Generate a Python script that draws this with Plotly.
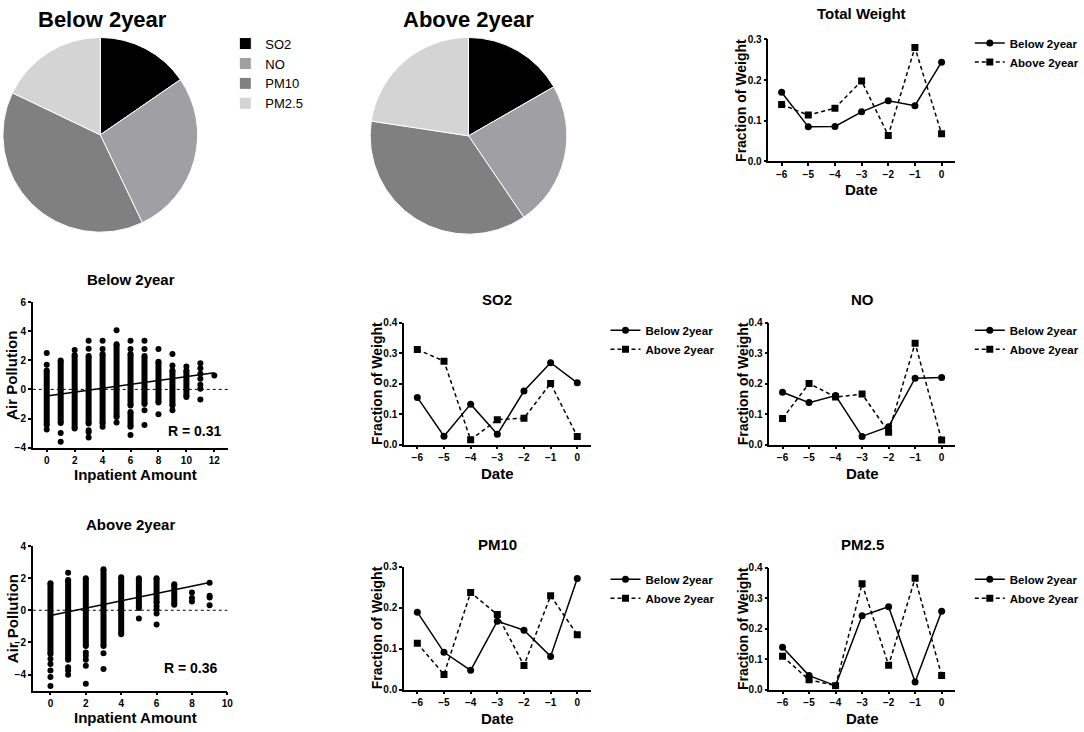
import plotly.graph_objects as go

# ---- data ----
pollutants = ["SO2", "NO", "PM10", "PM2.5"]
pie_below = [15.4, 27.5, 39.2, 17.9]
pie_above = [16.7, 23.8, 36.9, 22.6]
pie_colors = ["#000000", "#a0a0a4", "#808080", "#d4d4d4"]

dates = [-6, -5, -4, -3, -2, -1, 0]
total_below = [0.170, 0.085, 0.086, 0.122, 0.149, 0.137, 0.244]
total_above = [0.140, 0.114, 0.131, 0.198, 0.064, 0.280, 0.068]
so2_below = [0.155, 0.028, 0.133, 0.034, 0.176, 0.269, 0.203]
so2_above = [0.312, 0.274, 0.016, 0.082, 0.087, 0.201, 0.027]
no_below = [0.172, 0.138, 0.161, 0.027, 0.059, 0.218, 0.220]
no_above = [0.086, 0.201, 0.156, 0.166, 0.041, 0.333, 0.015]
pm10_below = [0.189, 0.091, 0.047, 0.167, 0.145, 0.081, 0.271]
pm10_above = [0.113, 0.037, 0.237, 0.183, 0.059, 0.229, 0.134]
pm25_below = [0.139, 0.046, 0.013, 0.242, 0.272, 0.025, 0.257]
pm25_above = [0.109, 0.032, 0.013, 0.347, 0.080, 0.365, 0.046]

# scatter: dense runs of points per inpatient count (low/high) + isolated points
below_col_x = [0, 1, 2, 3, 4, 5, 6, 6, 7, 8, 9, 10]
below_col_lo = [-2.45, -2.3, -2.68, -2.35, -2.35, -1.9, -1.1, -2.57, -1.0, -0.9, -1.1, -0.52]
below_col_hi = [1.3, 1.98, 2.36, 2.3, 2.43, 3.1, 2.43, -1.55, 2.3, 1.9, 1.3, 1.3]
below_pt_x = [0, 0, 0, 1, 1, 2, 3, 3, 3, 3, 3, 4, 4, 4, 5, 5, 6, 6, 6, 7, 7, 7, 7,
              8, 8, 9, 9, 9, 10, 11, 11, 11, 11, 11, 11, 11, 12]
below_pt_y = [2.5, 1.7, -2.75, -3.0, -3.6, 2.7, 3.34, 2.8, -2.8, -2.95, -3.3, 3.34, 2.77,
              -2.57, 4.07, -2.27, 3.34, 2.77, -3.14, 3.34, 2.77, -1.43, -2.45, 2.77, -1.7,
              2.43, 1.64, -1.43, 1.57, 1.8, 1.45, 1.07, 0.73, 0.32, 0.05, -0.7, 0.95]
below_fit = (-0.45, 0.1325)
below_r = "R = 0.31"

above_col_x = [0, 1, 2, 3, 4, 5, 6, 7]
above_col_lo = [-2.73, -3.08, -2.22, -2.22, -1.5, 0.14, 0.45, 0.35]
above_col_hi = [1.68, 1.89, 1.99, 2.56, 2.05, 1.99, 1.99, 1.62]
above_pt_x = [0, 0, 0, 0, 0, 1, 1, 1, 1, 2, 2, 2, 2, 2, 3, 3, 5, 6, 6, 6, 6,
              8, 8, 8, 9, 9, 9, 9]
above_pt_y = [-3.04, -3.34, -3.75, -4.16, -4.72, 2.34, -3.55, -3.75, -4.02, -2.63, -2.83,
              -3.08, -3.45, -4.57, -2.67, -3.65, -0.51, 0.25, 0.05, -0.2, -0.88,
              1.11, 0.76, 0.55, 1.72, 0.9, 0.8, 0.31]
above_fit = (-0.33, 0.228)
above_r = "R = 0.36"

W, H = 1084, 732
FONT = "Liberation Sans, Arial, sans-serif"


def dx(a, b):
    return [a / W, b / W]


def dy(top, bottom):
    return [1 - bottom / H, 1 - top / H]


def bold(size):
    return dict(family=FONT, size=size, color="black", weight="bold")


def axis_style(**kw):
    d = dict(showline=True, linecolor="black", linewidth=1.5, ticks="outside",
             ticklen=3, tickwidth=1.5, tickcolor="black", showgrid=False,
             zeroline=False, tickfont=bold(10), fixedrange=True)
    d.update(kw)
    return d


fig = go.Figure()
annotations = []
shapes = []


def note(text, x, y, size, angle=0):
    annotations.append(dict(text=text, x=x / W, y=1 - y / H, xref="paper", yref="paper",
                            showarrow=False, xanchor="center", yanchor="middle",
                            textangle=angle, font=bold(size)))


# ---- pies ----
fig.add_trace(go.Pie(labels=pollutants, values=pie_below, sort=False, direction="clockwise",
                     domain=dict(x=dx(2, 200), y=dy(32, 230)), textinfo="none",
                     marker=dict(colors=pie_colors, line=dict(color="white", width=1)),
                     legend="legend"))
fig.add_trace(go.Pie(labels=pollutants, values=pie_above, sort=False, direction="clockwise",
                     domain=dict(x=dx(372, 572), y=dy(32, 232)), textinfo="none",
                     marker=dict(colors=pie_colors, line=dict(color="white", width=1)),
                     legend="legend2"))
note("Below 2year", 103, 14, 22)
note("Above 2year", 472, 14, 22)

layout_extra = {}
pie_leg = dict(font=dict(family=FONT, size=13, color="black"), bgcolor="rgba(0,0,0,0)",
               xanchor="left", yanchor="top", tracegroupgap=0, itemclick=False)
layout_extra["legend"] = dict(pie_leg, x=227 / W, y=1 - 23 / H)
layout_extra["legend2"] = dict(pie_leg, x=602 / W, y=1 - 23 / H)


# ---- scatter panels ----
def scatter_panel(i, col_x, col_lo, col_hi, pt_x, pt_y, fit, r_text, xr, yr, xt, yt,
                  xdom, ydom, title, title_y, r_pos, xlab_y):
    xs, ys = [], []
    for x, lo, hi in zip(col_x, col_lo, col_hi):
        xs += [x, x, None]
        ys += [lo, hi, None]
    ax = "x" if i == 1 else f"x{i}"
    ay = "y" if i == 1 else f"y{i}"
    fig.add_trace(go.Scatter(x=xs, y=ys, mode="lines", line=dict(color="black", width=6),
                             xaxis=ax, yaxis=ay, showlegend=False, hoverinfo="skip"))
    mx = list(col_x) + list(col_x) + list(pt_x)
    my = list(col_lo) + list(col_hi) + list(pt_y)
    fig.add_trace(go.Scatter(x=mx, y=my, mode="markers",
                             marker=dict(color="black", size=6, symbol="circle"),
                             xaxis=ax, yaxis=ay, showlegend=False))
    x0 = min(col_x + pt_x)
    x1 = max(col_x + pt_x)
    fig.add_trace(go.Scatter(x=[x0, x1], y=[fit[0] + fit[1] * x0, fit[0] + fit[1] * x1],
                             mode="lines", line=dict(color="black", width=1.5),
                             xaxis=ax, yaxis=ay, showlegend=False))
    shapes.append(dict(type="line", xref=f"{ax} domain", yref=ay, x0=0, x1=1, y0=0, y1=0,
                       line=dict(color="black", width=1, dash="dot")))
    key = "" if i == 1 else str(i)
    layout_extra["xaxis" + key] = axis_style(domain=dx(*xdom), range=xr, tickvals=xt, anchor=ay)
    layout_extra["yaxis" + key] = axis_style(domain=dy(*ydom), range=yr, tickvals=yt, anchor=ax)
    note(title, (xdom[0] + xdom[1]) / 2, title_y, 15)
    note(r_text, r_pos[0], r_pos[1], 14)
    note("Inpatient Amount", 137, xlab_y, 15)
    note("Air Pollution", 12, (ydom[0] + ydom[1]) / 2, 15, angle=-90)


scatter_panel(1, below_col_x, below_col_lo, below_col_hi, below_pt_x, below_pt_y, below_fit,
              below_r, [-1, 13], [-4, 6], list(range(0, 13, 2)), list(range(-4, 7, 2)),
              (33, 230), (301, 449), "Below 2year", 278, (196, 432), 476)
scatter_panel(2, above_col_x, above_col_lo, above_col_hi, above_pt_x, above_pt_y, above_fit,
              above_r, [-1, 10], [-5, 4], list(range(0, 11, 2)), list(range(-4, 5, 2)),
              (33, 229), (549, 696), "Above 2year", 527, (192, 673), 723)


# ---- fraction-of-weight line panels ----
def line_panel(i, title, below, above, ymax, xdom, ydom, title_y, leg_y):
    ax, ay = f"x{i}", f"y{i}"
    leg = f"legend{i}"
    fig.add_trace(go.Scatter(x=dates, y=below, mode="lines+markers", name="Below 2year",
                             line=dict(color="black", width=1.5),
                             marker=dict(symbol="circle", size=7, color="black"),
                             xaxis=ax, yaxis=ay, legend=leg))
    fig.add_trace(go.Scatter(x=dates, y=above, mode="lines+markers", name="Above 2year",
                             line=dict(color="black", width=1.5, dash="4px,3px"),
                             marker=dict(symbol="square", size=7, color="black"),
                             xaxis=ax, yaxis=ay, legend=leg))
    layout_extra[f"xaxis{i}"] = axis_style(domain=dx(*xdom), range=[-6.5, 0.5], tickvals=dates,
                                           anchor=ay)
    layout_extra[f"yaxis{i}"] = axis_style(domain=dy(*ydom), range=[0, ymax], dtick=0.1,
                                           tickformat=".1f", anchor=ax)
    cx = (xdom[0] + xdom[1]) / 2
    note(title, cx, title_y, 15)
    note("Date", cx, ydom[1] + 29, 15)
    note("Fraction of Weight", xdom[0] - 27, (ydom[0] + ydom[1]) / 2, 14, angle=-90)
    layout_extra[leg] = dict(font=bold(11.5), bgcolor="rgba(0,0,0,0)", xanchor="left",
                             yanchor="top", x=(xdom[1] + 15) / W, y=1 - leg_y / H,
                             tracegroupgap=0, itemclick=False)


line_panel(3, "Total Weight", total_below, total_above, 0.3, (774, 962), (34, 158), 8, 23)
line_panel(4, "SO2", so2_below, so2_above, 0.4, (407, 595), (322, 446), 298, 315)
line_panel(5, "NO", no_below, no_above, 0.4, (775, 962), (322, 446), 298, 315)
line_panel(6, "PM10", pm10_below, pm10_above, 0.3, (407, 595), (570, 695), 547, 568)
line_panel(7, "PM2.5", pm25_below, pm25_above, 0.4, (775, 962), (571, 695), 547, 568)

fig.update_layout(width=W, height=H, margin=dict(l=0, r=0, t=0, b=0),
                  paper_bgcolor="white", plot_bgcolor="white",
                  font=dict(family=FONT, color="black"),
                  annotations=annotations, shapes=shapes, showlegend=True, **layout_extra)

# drop the default page margin so the figure sits at the window's top-left corner
fig.write_html("out.html", config={"displayModeBar": False},
               post_script="document.body.style.margin='0';")
